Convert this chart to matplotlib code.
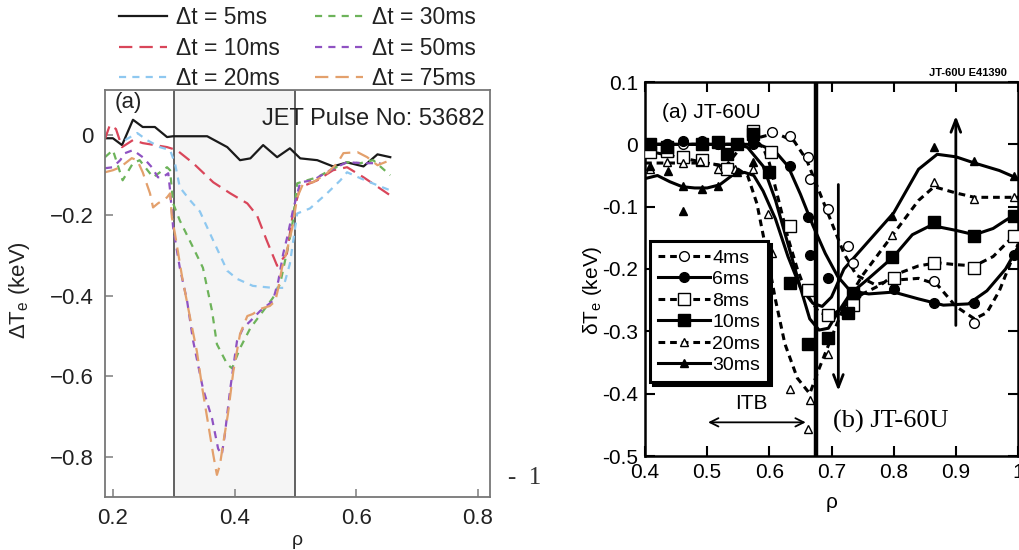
import matplotlib
matplotlib.use("Agg")
import matplotlib.pyplot as plt

plt.rcParams['font.family'] = ['Liberation Sans', 'DejaVu Sans']
plt.rcParams['mathtext.fontset'] = 'custom'
plt.rcParams['mathtext.rm'] = 'Liberation Sans'
plt.rcParams['mathtext.it'] = 'Liberation Sans:italic'

# ---------------- Left panel (JET) data ----------------
rho_5 = [0.187, 0.2, 0.215, 0.233, 0.249, 0.269, 0.289, 0.299, 0.355, 0.388, 0.409, 0.426, 0.447,
         0.47, 0.491, 0.508, 0.536, 0.562, 0.585, 0.612, 0.635, 0.656]
dte_5 = [-0.008, -0.008, -0.025, 0.038, 0.02, 0.02, -0.005, -0.003, -0.003, -0.03, -0.0625, -0.058,
         -0.025, -0.055, -0.033, -0.058, -0.0625, -0.078, -0.068, -0.078, -0.048, -0.055]

rho_10 = [0.187, 0.195, 0.205, 0.215, 0.233, 0.249, 0.289, 0.305, 0.332, 0.365, 0.393, 0.421, 0.437,
          0.453, 0.47, 0.486, 0.496, 0.508, 0.536, 0.562, 0.585, 0.612, 0.656]
dte_10 = [-0.01, 0.025, 0.015, -0.03, -0.0125, -0.02, -0.03, -0.0375, -0.07, -0.1175, -0.145, -0.17,
          -0.2, -0.2625, -0.325, -0.295, -0.195, -0.13, -0.1125, -0.0875, -0.08, -0.105, -0.15]

rho_20 = [0.22, 0.24, 0.256, 0.277, 0.294, 0.302, 0.31, 0.327, 0.343, 0.365, 0.388, 0.404, 0.43,
          0.463, 0.48, 0.491, 0.503, 0.524, 0.552, 0.574, 0.585, 0.607, 0.635, 0.656]
dte_20 = [-0.0125, 0.005, -0.0125, -0.03, -0.0375, -0.07, -0.13, -0.1625, -0.19, -0.2625, -0.3375,
          -0.3575, -0.375, -0.38, -0.38, -0.32, -0.195, -0.1825, -0.145, -0.1125, -0.0925, -0.1075,
          -0.125, -0.1375]

rho_30 = [0.187, 0.2, 0.216, 0.233, 0.244, 0.266, 0.289, 0.294, 0.299, 0.31, 0.332, 0.348, 0.363,
          0.371, 0.388, 0.396, 0.409, 0.426, 0.447, 0.463, 0.475, 0.483, 0.491, 0.496, 0.503, 0.536,
          0.557, 0.585, 0.607, 0.628, 0.656]
dte_30 = [-0.055, -0.0375, -0.1125, -0.07, -0.0625, -0.105, -0.08, -0.0875, -0.17, -0.2125, -0.28,
          -0.33, -0.4375, -0.52, -0.57, -0.58, -0.53, -0.48, -0.4375, -0.405, -0.37, -0.3125, -0.255,
          -0.2125, -0.12, -0.105, -0.0875, -0.0675, -0.07, -0.0625, -0.1]

rho_50 = [0.187, 0.2, 0.212, 0.22, 0.233, 0.249, 0.264, 0.274, 0.282, 0.291, 0.294, 0.299, 0.31,
          0.322, 0.332, 0.348, 0.363, 0.373, 0.379, 0.384, 0.393, 0.404, 0.414, 0.426, 0.442, 0.463,
          0.472, 0.48, 0.488, 0.496, 0.508, 0.529, 0.557, 0.585, 0.612, 0.64]
dte_50 = [-0.0825, -0.08, -0.0625, -0.045, -0.0375, -0.055, -0.08, -0.105, -0.105, -0.095, -0.1375,
          -0.23, -0.33, -0.4125, -0.5125, -0.63, -0.705, -0.78, -0.795, -0.745, -0.63, -0.5125, -0.48,
          -0.4625, -0.4375, -0.4125, -0.3625, -0.295, -0.245, -0.1875, -0.1175, -0.1125, -0.0875,
          -0.0675, -0.07, -0.07]

rho_75 = [0.187, 0.2, 0.212, 0.231, 0.24, 0.249, 0.261, 0.266, 0.274, 0.289, 0.294, 0.297, 0.302,
          0.314, 0.327, 0.338, 0.347, 0.356, 0.365, 0.371, 0.376, 0.381, 0.389, 0.398, 0.409, 0.421,
          0.43, 0.442, 0.458, 0.467, 0.472, 0.478, 0.486, 0.495, 0.503, 0.513, 0.529, 0.552, 0.569,
          0.579, 0.602, 0.618, 0.635, 0.656]
dte_75 = [-0.0925, -0.0875, -0.08, -0.0575, -0.0625, -0.0925, -0.145, -0.18, -0.17, -0.155, -0.145,
          -0.205, -0.245, -0.355, -0.455, -0.5375, -0.63, -0.7125, -0.795, -0.845, -0.82, -0.77,
          -0.695, -0.5875, -0.495, -0.45, -0.445, -0.4325, -0.425, -0.4125, -0.38, -0.33, -0.2875,
          -0.23, -0.155, -0.12, -0.1175, -0.095, -0.07, -0.045, -0.0425, -0.055, -0.075, -0.0625]

left_labels = ['Δt = 5ms', 'Δt = 10ms', 'Δt = 20ms', 'Δt = 30ms', 'Δt = 50ms', 'Δt = 75ms']
left_xticks = [0.2, 0.4, 0.6, 0.8]
left_xticklabels = ['0.2', '0.4', '0.6', '0.8']
left_yticks = [-0.8, -0.6, -0.4, -0.2, 0.0]
left_yticklabels = ['\u22120.8', '\u22120.6', '\u22120.4', '\u22120.2', '0']
itb_region = (0.3, 0.5)

# ---------------- Right panel (JT-60U) data ----------------
m4_rho = [0.408, 0.435, 0.461, 0.492, 0.518, 0.548, 0.574, 0.605, 0.634, 0.663, 0.666, 0.695, 0.726,
          0.734, 0.865, 0.929]
m4_dte = [0.0, 0.0, 0.0, 0.0, 0.0, 0.0, 0.005, 0.02, 0.013, -0.02, -0.055, -0.104, -0.163, -0.19,
          -0.22, -0.286]
c4_rho = [0.40, 0.55, 0.58, 0.61, 0.64, 0.66, 0.68, 0.70, 0.72, 0.74, 0.77, 0.80, 0.84, 0.87, 0.90,
          0.93, 0.95, 0.97, 0.99, 1.0]
c4_dte = [0.0, 0.0, 0.01, 0.018, 0.005, -0.025, -0.075, -0.125, -0.175, -0.21, -0.225, -0.218,
          -0.215, -0.225, -0.26, -0.28, -0.27, -0.235, -0.185, -0.16]

m6_rho = [0.408, 0.435, 0.461, 0.492, 0.518, 0.548, 0.574, 0.605, 0.634, 0.663, 0.666, 0.695, 0.74,
          0.80, 0.865, 0.929, 0.994]
m6_dte = [0.0, 0.0, 0.005, 0.005, 0.0, 0.0, 0.0, -0.01, -0.035, -0.117, -0.177, -0.214, -0.24,
          -0.232, -0.255, -0.255, -0.177]
c6_rho = [0.40, 0.57, 0.59, 0.61, 0.63, 0.65, 0.67, 0.69, 0.71, 0.73, 0.76, 0.80, 0.84, 0.88, 0.92,
          0.95, 0.98, 1.0]
c6_dte = [0.0, 0.0, -0.003, -0.012, -0.035, -0.08, -0.13, -0.175, -0.212, -0.235, -0.24, -0.237,
          -0.248, -0.258, -0.256, -0.235, -0.2, -0.165]

m8_rho = [0.408, 0.435, 0.461, 0.492, 0.532, 0.574, 0.602, 0.634, 0.663, 0.695, 0.735, 0.80, 0.865,
          0.929, 0.994]
m8_dte = [-0.013, -0.01, -0.021, -0.025, -0.04, 0.021, -0.013, -0.131, -0.233, -0.273, -0.258,
          -0.214, -0.19, -0.198, -0.147]
c8_rho = [0.40, 0.45, 0.50, 0.53, 0.55, 0.575, 0.59, 0.60, 0.615, 0.63, 0.645, 0.66, 0.68, 0.70,
          0.72, 0.75, 0.78, 0.80, 0.84, 0.87, 0.90, 0.93, 0.96, 0.98, 1.0]
c8_dte = [-0.01, -0.02, -0.03, -0.035, -0.01, 0.01, -0.005, -0.03, -0.09, -0.15, -0.2, -0.24, -0.27,
          -0.275, -0.26, -0.24, -0.225, -0.21, -0.195, -0.19, -0.193, -0.195, -0.18, -0.16, -0.14]

m10_rho = [0.408, 0.435, 0.492, 0.518, 0.532, 0.548, 0.574, 0.600, 0.634, 0.663, 0.695, 0.726,
           0.735, 0.798, 0.865, 0.929, 0.994]
m10_dte = [0.0, -0.005, 0.0, 0.003, -0.016, 0.0, 0.016, -0.045, -0.222, -0.32, -0.31, -0.27,
           -0.238, -0.18, -0.124, -0.147, -0.115]
c10_rho = [0.40, 0.55, 0.565, 0.59, 0.61, 0.63, 0.65, 0.665, 0.68, 0.695, 0.71, 0.73, 0.76, 0.80,
           0.83, 0.86, 0.90, 0.93, 0.96, 0.98, 1.0]
c10_dte = [0.0, 0.0, -0.005, -0.035, -0.09, -0.16, -0.23, -0.28, -0.298, -0.295, -0.27, -0.24,
           -0.215, -0.18, -0.145, -0.13, -0.138, -0.145, -0.135, -0.122, -0.11]

m20_rho = [0.408, 0.435, 0.461, 0.489, 0.518, 0.545, 0.574, 0.598, 0.605, 0.634, 0.666, 0.663,
           0.695, 0.798, 0.865, 0.929, 0.994]
m20_dte = [-0.04, -0.029, -0.03, -0.027, -0.04, -0.04, -0.04, -0.112, -0.174, -0.393, -0.41,
           -0.457, -0.337, -0.145, -0.06, -0.087, -0.084]
c20_rho = [0.40, 0.45, 0.50, 0.55, 0.565, 0.58, 0.595, 0.61, 0.625, 0.645, 0.665, 0.68, 0.70, 0.72,
           0.75, 0.78, 0.81, 0.84, 0.865, 0.90, 0.93, 1.0]
c20_dte = [-0.03, -0.03, -0.03, -0.04, -0.05, -0.095, -0.17, -0.25, -0.32, -0.375, -0.4, -0.36,
           -0.31, -0.26, -0.21, -0.17, -0.13, -0.09, -0.068, -0.078, -0.085, -0.085]

m30_rho = [0.408, 0.437, 0.461, 0.461, 0.492, 0.518, 0.548, 0.574, 0.798, 0.865, 0.929, 0.994]
m30_dte = [-0.035, -0.043, -0.067, -0.107, -0.072, -0.067, -0.045, -0.029, -0.115, -0.005,
           -0.027, -0.051]
c30_rho = [0.40, 0.42, 0.44, 0.46, 0.48, 0.50, 0.52, 0.54, 0.56, 0.575, 0.59, 0.61, 0.63, 0.65,
           0.67, 0.685, 0.70, 0.72, 0.76, 0.80, 0.84, 0.87, 0.90, 0.93, 0.97, 1.0]
c30_dte = [-0.055, -0.05, -0.06, -0.068, -0.07, -0.07, -0.065, -0.05, -0.045, -0.05, -0.075, -0.12,
           -0.18, -0.23, -0.255, -0.26, -0.245, -0.2, -0.155, -0.11, -0.04, -0.016, -0.02, -0.03,
           -0.042, -0.055]

right_labels = ['4ms', '6ms', '8ms', '10ms', '20ms', '30ms']
right_xticks = [0.4, 0.5, 0.6, 0.7, 0.8, 0.9, 1.0]
right_xticklabels = ['0.4', '0.5', '0.6', '0.7', '0.8', '0.9', '1']
right_yticks = [-0.5, -0.4, -0.3, -0.2, -0.1, 0.0, 0.1]
right_yticklabels = ['-0.5', '-0.4', '-0.3', '-0.2', '-0.1', '0', '0.1']
itb_edge = 0.675

# ---------------- Figure ----------------
fig = plt.figure(figsize=(10.19, 5.5), dpi=100)

# Left axes
axL = fig.add_axes([105 / 1019, 53 / 550, 385 / 1019, 407 / 550])
axL.axvspan(itb_region[0], itb_region[1], facecolor='#f5f5f5', edgecolor='#555555', lw=1.3, zorder=0)

left_series = [
    (rho_5, dte_5, '#1a1a1a', '-'),
    (rho_10, dte_10, '#d9465a', (0, (6, 3.2))),
    (rho_20, dte_20, '#8ec8f0', (0, (3.2, 2.8))),
    (rho_30, dte_30, '#6db35a', (0, (3.2, 2.8))),
    (rho_50, dte_50, '#8f52c2', (0, (3.2, 2.8))),
    (rho_75, dte_75, '#e3a06c', (0, (6, 3.2))),
]
handles = []
for (xs, ys, c, ls), lab in zip(left_series, left_labels):
    h, = axL.plot(xs, ys, color=c, ls=ls, lw=1.6, label=lab)
    handles.append(h)

axL.set_xlim(0.187, 0.82)
axL.set_ylim(-0.9, 0.112)
axL.set_xticks(left_xticks)
axL.set_xticklabels(left_xticklabels)
axL.set_yticks(left_yticks)
axL.set_yticklabels(left_yticklabels)
for s in axL.spines.values():
    s.set_color('#777777')
    s.set_linewidth(1.3)
axL.tick_params(direction='in', length=6, width=1.2, color='#888888', labelsize=16,
                labelcolor='#222222', pad=8)
axL.text(0.025, 0.995, '(a)', transform=axL.transAxes, fontsize=16, color='#222222', va='top')
axL.text(0.985, 0.955, 'JET Pulse No: 53682', transform=axL.transAxes, fontsize=17,
         color='#222222', ha='right', va='top')
axL.set_xlabel('ρ', fontsize=14, color='#222222', labelpad=2)
fig.text(20 / 1019, 1 - 290 / 550, 'ΔT$_{\\rm e}$ (keV)', rotation=90, fontsize=16,
         color='#222222', ha='center', va='center')

fig.legend(handles=handles, labels=left_labels, ncol=2, loc='upper left',
           bbox_to_anchor=(119 / 1019, 1 - 6 / 550), frameon=False, fontsize=16.5,
           handlelength=2.1, handletextpad=0.4, columnspacing=1.5, labelspacing=0.33,
           borderpad=0, borderaxespad=0, labelcolor='#222222')

fig.text(525 / 1019, 1 - 478 / 550, '-  1', fontsize=18, family='Liberation Serif', color='#333333',
         ha='center', va='center')

# Right axes
axR = fig.add_axes([645 / 1019, 94 / 550, 373 / 1019, 374 / 550])
right_series = [
    (c4_rho, c4_dte, m4_rho, m4_dte, (0, (2.2, 1.6)), 'o', 'white', 7),
    (c6_rho, c6_dte, m6_rho, m6_dte, '-', 'o', 'black', 7),
    (c8_rho, c8_dte, m8_rho, m8_dte, (0, (2.2, 1.6)), 's', 'white', 8),
    (c10_rho, c10_dte, m10_rho, m10_dte, '-', 's', 'black', 8.5),
    (c20_rho, c20_dte, m20_rho, m20_dte, (0, (2.2, 1.6)), '^', 'white', 6),
    (c30_rho, c30_dte, m30_rho, m30_dte, '-', '^', 'black', 6),
]
rh = []
for cx, cy, mx, my, ls, mk, fc, ms in right_series:
    axR.plot(cx, cy, color='black', ls=ls, lw=2.2, zorder=2)
    axR.plot(mx, my, ls='none', marker=mk, mfc=fc, mec='black', mew=1.0, ms=ms, zorder=3)
    h, = axR.plot([], [], color='black', ls=ls, lw=2.2, marker=mk, mfc=fc, mec='black',
                  mew=1.0, ms=ms)
    rh.append(h)

axR.axvline(itb_edge, color='black', lw=3.2, zorder=4)
axR.annotate('', xy=(0.711, -0.40), xytext=(0.711, -0.06),
             arrowprops=dict(arrowstyle='->, head_length=0.9, head_width=0.35', lw=2, color='black'))
axR.annotate('', xy=(0.9, 0.05), xytext=(0.9, -0.295),
             arrowprops=dict(arrowstyle='->, head_length=0.9, head_width=0.35', lw=2, color='black'))
axR.annotate('', xy=(0.497, -0.446), xytext=(0.663, -0.446),
             arrowprops=dict(arrowstyle='<->, head_length=0.6, head_width=0.3', lw=1.3, color='black'))
axR.text(0.545, -0.425, 'ITB', fontsize=15, ha='left', va='baseline')
axR.text(0.703, -0.454, '(b) JT-60U', fontsize=19, family='Liberation Serif', ha='left',
         va='baseline')
axR.text(0.427, 0.043, '(a) JT-60U', fontsize=15, ha='left', va='baseline')

axR.set_xlim(0.4, 1.0)
axR.set_ylim(-0.5, 0.1)
axR.set_xticks(right_xticks)
axR.set_xticklabels(right_xticklabels)
axR.set_yticks(right_yticks)
axR.set_yticklabels(right_yticklabels)
for s in axR.spines.values():
    s.set_linewidth(1.8)
axR.tick_params(direction='in', length=7, width=1.5, labelsize=15, top=True, right=True, pad=5)
axR.set_xlabel('ρ', fontsize=15, labelpad=8)
fig.text(592 / 1019, 1 - 290 / 550, 'δT$_{\\rm e}$ (keV)', rotation=90, fontsize=15,
         ha='center', va='center')
fig.text(1007 / 1019, 1 - 73 / 550, 'JT-60U E41390', fontsize=8, fontweight='bold',
         ha='right', va='center')

legR = axR.legend(handles=rh, labels=right_labels, loc='lower left',
                  bbox_to_anchor=(0.013, 0.198), fontsize=14, handlelength=2.7,
                  handletextpad=0.1, labelspacing=0.2, borderpad=0.4, borderaxespad=0,
                  fancybox=False, shadow={'color': 'black', 'alpha': 1.0}, framealpha=1)
legR.get_frame().set_edgecolor('black')
legR.get_frame().set_linewidth(2.2)

fig.savefig('out.png', dpi=100)
